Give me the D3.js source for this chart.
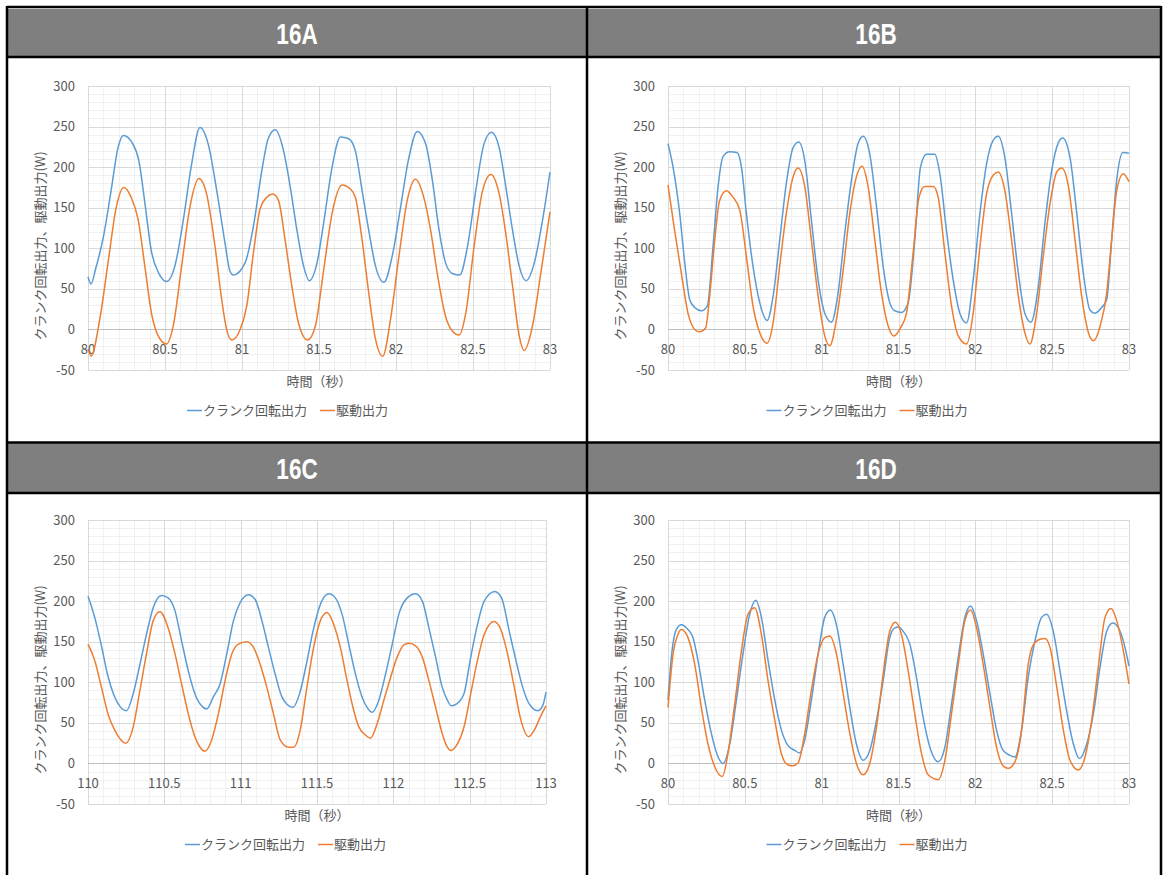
<!DOCTYPE html>
<html>
<head>
<meta charset="utf-8">
<style>
  body { margin: 0; background: #fff; }
  svg text { font-family: "Noto Sans CJK JP", "Noto Sans", sans-serif; }
</style>
</head>
<body>
<script src="https://d3js.org/d3.v7.min.js"></script>
<script>
// ---- data: [time (s), power (W)] ----
var crankA = [[80,65],[80.02,56],[80.05,75],[80.10,114],[80.15,171],[80.195,224],[80.23,239],[80.29,229],[80.33,208],[80.37,155],[80.41,98],[80.46,69],[80.51,59],
  [80.564,78],[80.619,135],[80.673,204],[80.727,249],[80.78,229],[80.836,171],[80.89,106],[80.92,73],[80.944,67],[81.02,82],[81.074,127],[81.129,196],[81.17,235],[81.216,246],
  [81.27,220],[81.313,176],[81.357,122],[81.40,78],[81.437,60],[81.487,82],[81.53,131],[81.585,200],[81.639,237],[81.693,235],[81.736,220],[81.78,171],[81.823,122],[81.867,78],[81.921,58],
  [81.975,90],[82.03,151],[82.084,212],[82.138,244],[82.192,229],[82.236,184],[82.28,122],[82.322,82],[82.366,69],[82.414,67],
  [82.464,102],[82.518,171],[82.572,229],[82.62,243],[82.67,224],[82.713,176],[82.757,122],[82.80,78],[82.844,60],[82.898,82],[82.952,135],[83,194]];
var driveA = [[80,-24],[80.02,-33],[80.076,12],[80.13,82],[80.184,151],[80.232,175],[80.28,163],[80.326,135],[80.369,78],[80.412,20],[80.456,-8],[80.51,-18],
  [80.553,4],[80.608,78],[80.662,151],[80.72,186],[80.77,167],[80.825,102],[80.868,37],[80.9,0],[80.933,-13],
  [80.988,0],[81.031,29],[81.074,94],[81.118,149],[81.161,163],[81.20,167],[81.237,159],[81.28,110],[81.324,53],[81.367,8],[81.426,-13],
  [81.476,4],[81.53,73],[81.585,143],[81.65,178],[81.704,173],[81.736,163],[81.78,110],[81.823,45],[81.867,-12],[81.914,-33],
  [81.964,12],[82.019,90],[82.073,159],[82.127,185],[82.18,163],[82.225,122],[82.268,69],[82.322,16],[82.366,-2],[82.41,-7],
  [82.453,20],[82.507,102],[82.562,171],[82.616,191],[82.67,167],[82.713,118],[82.757,53],[82.80,-8],[82.832,-26],[82.886,4],[82.94,69],[83,145]];

var crankB = [[80,229],[80.033,200],[80.076,143],[80.109,82],[80.141,37],[80.174,27],[80.217,23],[80.256,29],[80.293,102],[80.326,176],[80.358,213],[80.40,219],[80.449,218],[80.478,200],
  [80.51,143],[80.553,78],[80.597,33],[80.645,11],[80.684,41],[80.727,110],[80.77,180],[80.814,224],[80.851,231],[80.89,208],[80.933,135],[80.977,61],[81.02,20],[81.064,9],
  [81.107,45],[81.15,118],[81.194,184],[81.237,229],[81.27,238],[81.313,216],[81.357,151],[81.40,78],[81.443,33],[81.476,23],[81.519,21],[81.563,33],
  [81.606,110],[81.643,200],[81.682,216],[81.736,216],[81.769,192],[81.812,122],[81.856,61],[81.899,20],[81.943,8],
  [81.986,61],[82.03,143],[82.073,204],[82.116,233],[82.149,238],[82.192,212],[82.236,143],[82.28,69],[82.322,20],[82.362,9],
  [82.41,53],[82.453,131],[82.497,196],[82.54,230],[82.568,236],[82.616,212],[82.66,143],[82.703,69],[82.746,24],[82.778,20],[82.822,27],[82.855,37],
  [82.887,110],[82.92,184],[82.96,218],[83,217]];
var driveB = [[80,178],[80.043,122],[80.087,69],[80.13,20],[80.174,0],[80.206,-3],[80.245,2],[80.271,41],[80.304,110],[80.336,159],[80.38,171],[80.423,163],[80.467,147],
  [80.51,90],[80.553,29],[80.597,-4],[80.645,-17],[80.684,8],[80.727,78],[80.77,143],[80.814,188],[80.847,199],[80.89,176],[80.933,110],[80.977,41],[81.02,-8],[81.053,-20],
  [81.096,12],[81.14,73],[81.183,143],[81.226,188],[81.263,201],[81.302,176],[81.346,110],[81.389,45],[81.433,4],[81.47,-8],[81.513,2],[81.552,20],
  [81.595,94],[81.634,163],[81.671,176],[81.726,176],[81.758,163],[81.802,94],[81.845,29],[81.889,-8],[81.943,-18],
  [81.986,20],[82.03,102],[82.073,167],[82.116,190],[82.149,194],[82.192,171],[82.236,110],[82.28,41],[82.322,-4],[82.355,-18],
  [82.399,20],[82.442,90],[82.486,155],[82.53,194],[82.562,199],[82.606,176],[82.649,110],[82.692,41],[82.736,-4],[82.768,-14],[82.812,4],[82.855,45],
  [82.887,110],[82.92,171],[82.963,192],[83,182]];

var crankC = [[110,206],[110.044,180],[110.088,145],[110.13,108],[110.17,84],[110.21,70],[110.252,65],[110.296,86],[110.34,122],[110.383,159],[110.427,192],[110.482,207],[110.525,204],[110.57,188],
  [110.613,151],[110.657,114],[110.70,86],[110.744,71],[110.777,67],[110.821,82],[110.865,98],[110.909,135],[110.953,176],[110.996,198],[111.051,208],[111.095,202],
  [111.139,176],[111.182,143],[111.226,110],[111.27,82],[111.303,73],[111.342,69],[111.386,86],[111.43,122],[111.474,163],[111.522,196],[111.577,209],[111.62,204],[111.664,184],
  [111.708,147],[111.752,110],[111.795,82],[111.828,69],[111.861,63],[111.905,78],[111.949,110],[111.993,147],[112.036,184],[112.091,204],[112.146,209],[112.19,200],
  [112.233,167],[112.277,131],[112.32,94],[112.354,78],[112.38,71],[112.43,76],[112.463,86],[112.507,131],[112.551,171],[112.595,200],[112.665,212],[112.709,204],
  [112.759,163],[112.803,127],[112.847,94],[112.891,73],[112.945,65],[112.978,71],[113,88]];
var driveC = [[110,147],[110.044,127],[110.088,94],[110.131,61],[110.175,41],[110.247,25],[110.296,45],[110.34,90],[110.383,135],[110.427,176],[110.471,187],
  [110.525,167],[110.57,135],[110.613,98],[110.657,61],[110.70,33],[110.734,20],[110.766,15],[110.81,29],[110.854,61],[110.898,102],[110.942,135],[110.985,147],[111.04,150],
  [111.084,143],[111.128,122],[111.171,94],[111.215,61],[111.259,29],[111.314,20],[111.347,20],[111.39,41],[111.434,94],[111.478,143],[111.522,176],[111.566,186],
  [111.61,171],[111.653,143],[111.697,102],[111.741,65],[111.774,45],[111.817,35],[111.85,31],[111.894,49],[111.938,78],[111.982,106],[112.025,131],[112.069,146],[112.102,148],[112.146,145],
  [112.19,131],[112.233,102],[112.277,69],[112.32,37],[112.354,20],[112.376,16],[112.42,24],[112.463,45],[112.507,86],[112.551,127],[112.595,159],[112.66,175],
  [112.704,165],[112.748,135],[112.792,94],[112.836,53],[112.886,33],[112.923,41],[112.967,59],[113,71]];

var crankD = [[80,78],[80.022,131],[80.054,165],[80.087,171],[80.13,165],[80.163,155],[80.195,127],[80.239,78],[80.282,37],[80.326,8],[80.358,0],
  [80.402,24],[80.445,78],[80.488,135],[80.532,184],[80.571,201],[80.608,180],[80.651,127],[80.695,78],[80.738,41],[80.781,22],[80.825,16],[80.857,13],
  [80.89,29],[80.933,78],[80.977,135],[81.02,180],[81.057,189],[81.096,171],[81.14,122],[81.183,69],[81.226,24],[81.27,4],
  [81.313,16],[81.357,53],[81.40,102],[81.443,155],[81.476,167],[81.498,168],[81.53,163],[81.574,147],[81.617,106],[81.66,57],[81.704,20],[81.758,2],
  [81.802,20],[81.845,73],[81.889,131],[81.932,180],[81.969,194],[82.008,176],[82.051,135],[82.095,86],[82.138,41],[82.181,16],[82.225,10],[82.258,8],
  [82.301,41],[82.344,106],[82.388,151],[82.431,180],[82.464,184],[82.507,163],[82.551,114],[82.594,65],[82.638,24],[82.677,6],
  [82.725,24],[82.768,61],[82.811,118],[82.855,163],[82.894,173],[82.931,167],[82.963,151],[83,120]];
var driveD = [[80,69],[80.033,135],[80.065,159],[80.087,165],[80.13,155],[80.174,122],[80.217,69],[80.26,24],[80.304,-4],[80.354,-16],
  [80.39,12],[80.434,73],[80.478,139],[80.521,184],[80.564,192],[80.608,159],[80.651,102],[80.695,53],[80.738,12],[80.781,-2],[80.814,-3],[80.847,1],
  [80.89,37],[80.933,90],[80.977,135],[81.02,155],[81.053,157],[81.096,135],[81.14,86],[81.183,37],[81.226,0],[81.27,-14],
  [81.313,0],[81.357,45],[81.40,110],[81.443,163],[81.48,174],[81.519,159],[81.563,114],[81.606,61],[81.65,12],[81.693,-14],[81.758,-20],
  [81.802,4],[81.845,61],[81.889,122],[81.932,176],[81.969,189],[82.008,167],[82.051,122],[82.095,69],[82.138,20],[82.181,-3],[82.214,-6],[82.258,2],
  [82.301,41],[82.344,122],[82.377,146],[82.42,153],[82.453,154],[82.486,143],[82.53,94],[82.573,41],[82.616,4],[82.67,-8],
  [82.714,8],[82.757,53],[82.80,118],[82.844,180],[82.883,191],[82.92,176],[82.963,139],[83,98]];

var yTicks = [-50, 0, 50, 100, 150, 200, 250, 300];
var xTicks80 = [80, 80.5, 81, 81.5, 82, 82.5, 83];
var xTicks110 = [110, 110.5, 111, 111.5, 112, 112.5, 113];
var seriesNames = ['クランク回転出力', '駆動出力'];
var titles = ['16A', '16B', '16C', '16D'];

var colors = ['#5b9bd5', '#ed7d31'];
var W = 1164, H = 875;

var svg = d3.select('body').append('svg').attr('width', W).attr('height', H);

// header bars
[[9, 56], [443, 492]].forEach(function (r) {
  svg.append('rect').attr('x', 7).attr('y', r[0]).attr('width', 1154).attr('height', r[1] - r[0]).attr('fill', '#7f7f7f');
});

var panels = [
  { title: titles[0], left: 88, right: 550, top: 86, bottom: 370, cx: 297, hy: 33, ticks: xTicks80, data: [crankA, driveA] },
  { title: titles[1], left: 668, right: 1129, top: 86, bottom: 370, cx: 876, hy: 33, ticks: xTicks80, data: [crankB, driveB] },
  { title: titles[2], left: 88, right: 546, top: 520, bottom: 804, cx: 297, hy: 468, ticks: xTicks110, data: [crankC, driveC] },
  { title: titles[3], left: 668, right: 1129, top: 520, bottom: 804, cx: 876, hy: 468, ticks: xTicks80, data: [crankD, driveD] }
];

panels.forEach(function (p) {
  // header title (narrow bold)
  svg.append('text')
    .attr('transform', 'translate(' + p.cx + ',' + p.hy + ') scale(0.75,1)')
    .attr('dy', '0.36em')
    .attr('text-anchor', 'middle').attr('fill', '#fff')
    .style('font-family', '"Liberation Sans", Arial, sans-serif')
    .style('font-weight', 'bold').style('font-size', '30px')
    .text(p.title);

  var x = d3.scaleLinear().domain([p.ticks[0], p.ticks[p.ticks.length - 1]]).range([p.left, p.right]);
  var y = d3.scaleLinear().domain([-50, 300]).range([p.bottom, p.top]);
  var g = svg.append('g');

  // minor grid
  var xMinor = d3.range(0, 31).map(function (i) { return p.ticks[0] + i * 0.1; });
  var yMinor = d3.range(-50, 301, 10);
  g.selectAll('line.xm').data(xMinor).enter().append('line')
    .attr('x1', function (d) { return Math.round(x(d)) + 0.5; }).attr('x2', function (d) { return Math.round(x(d)) + 0.5; })
    .attr('y1', p.top).attr('y2', p.bottom).attr('stroke', '#f0f0f0');
  g.selectAll('line.ym').data(yMinor).enter().append('line')
    .attr('y1', function (d) { return Math.round(y(d)) + 0.5; }).attr('y2', function (d) { return Math.round(y(d)) + 0.5; })
    .attr('x1', p.left).attr('x2', p.right).attr('stroke', '#f0f0f0');
  // major grid
  g.selectAll('line.xM').data(p.ticks).enter().append('line')
    .attr('x1', function (d) { return Math.round(x(d)) + 0.5; }).attr('x2', function (d) { return Math.round(x(d)) + 0.5; })
    .attr('y1', p.top).attr('y2', p.bottom).attr('stroke', '#d9d9d9');
  g.selectAll('line.yM').data(yTicks).enter().append('line')
    .attr('y1', function (d) { return Math.round(y(d)) + 0.5; }).attr('y2', function (d) { return Math.round(y(d)) + 0.5; })
    .attr('x1', p.left).attr('x2', p.right).attr('stroke', '#d9d9d9');
  // zero axis line
  g.append('line').attr('x1', p.left).attr('x2', p.right)
    .attr('y1', Math.round(y(0)) + 0.5).attr('y2', Math.round(y(0)) + 0.5).attr('stroke', '#bfbfbf');

  // y tick labels
  g.selectAll('text.yt').data(yTicks).enter().append('text')
    .attr('x', p.left - 13).attr('y', function (d) { return y(d); }).attr('dy', '0.35em')
    .attr('text-anchor', 'end').attr('fill', '#595959').style('font-size', '13px')
    .text(function (d) { return d; });
  // x tick labels, under the zero line
  g.selectAll('text.xt').data(p.ticks).enter().append('text')
    .attr('x', function (d) { return x(d); }).attr('y', y(0) + 20).attr('dy', '0.35em')
    .attr('text-anchor', 'middle').attr('fill', '#595959').style('font-size', '13px')
    .text(function (d) { return d; });

  // lines
  var line = d3.line().x(function (d) { return x(d[0]); }).y(function (d) { return y(d[1]); }).curve(d3.curveMonotoneX);
  p.data.forEach(function (s, i) {
    g.append('path').datum(s).attr('d', line).attr('fill', 'none')
      .attr('stroke', colors[i]).attr('stroke-width', 1.5);
  });

  // axis titles
  var mx = (p.left + p.right) / 2;
  g.append('text').attr('x', mx).attr('y', p.bottom + 11).attr('dy', '0.35em')
    .attr('text-anchor', 'middle').attr('fill', '#595959').style('font-size', '13px').text('時間（秒）');
  g.append('text').attr('transform', 'translate(' + (p.left - 48) + ',' + ((p.top + p.bottom) / 2 + 18) + ') rotate(-90)')
    .attr('dy', '0.35em').attr('text-anchor', 'middle').attr('fill', '#595959').style('font-size', '13px')
    .text('クランク回転出力、駆動出力(W)');

  // legend
  var lg = g.append('g').attr('transform', 'translate(' + (mx - 132) + ',' + (p.bottom + 40) + ')');
  var offs = [0, 133];
  seriesNames.forEach(function (n, i) {
    lg.append('line').attr('x1', offs[i]).attr('x2', offs[i] + 15).attr('y1', 0.5).attr('y2', 0.5)
      .attr('stroke', colors[i]).attr('stroke-width', 1.5);
    lg.append('text').attr('x', offs[i] + 16).attr('y', 0).attr('dy', '0.35em')
      .attr('fill', '#595959').style('font-size', '13px').text(n);
  });
});

// black frame lines
var frame = [
  [7, 7, 1161, 7], [7, 57, 1161, 57], [7, 442.5, 1161, 442.5], [7, 493, 1161, 493],
  [7, 6, 7, H], [587, 6, 587, H], [1161, 6, 1161, H]
];
svg.selectAll('line.frame').data(frame).enter().append('line')
  .attr('x1', function (d) { return d[0]; }).attr('y1', function (d) { return d[1]; })
  .attr('x2', function (d) { return d[2]; }).attr('y2', function (d) { return d[3]; })
  .attr('stroke', '#000').attr('stroke-width', 2.5);
</script>
</body>
</html>
